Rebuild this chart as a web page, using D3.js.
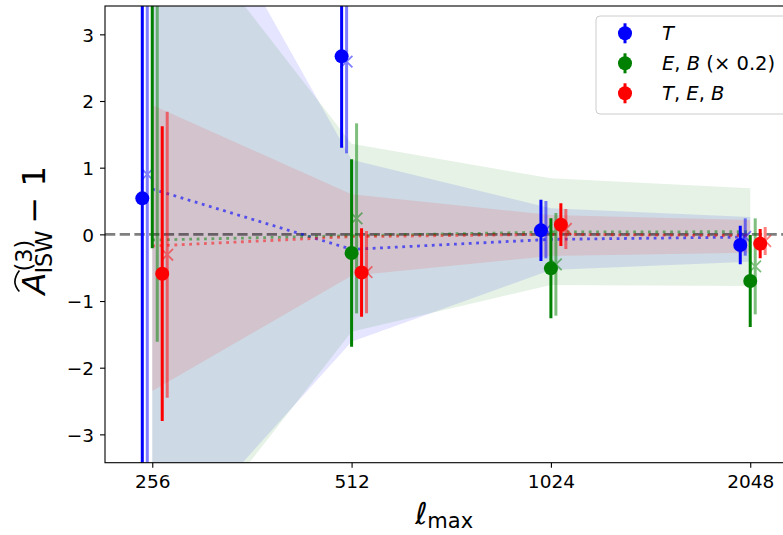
<!DOCTYPE html>
<html>
<head>
<meta charset="utf-8">
<script src="https://cdn.jsdelivr.net/npm/d3@7"></script>
<style>
  body { margin: 0; background: #fff; }
  svg { display: block; font-family: "DejaVu Sans", sans-serif; }
</style>
</head>
<body>
<div id="chart"></div>
<script>
// data
const lmaxValues = [256, 512, 1024, 2048]
const xTicks = [256, 512, 1024, 2048]
const yTicks = [-3, -2, -1, 0, 1, 2, 3]

// filled markers (value, symmetric error)
const tValues = [0.54, 2.67, 0.06, -0.16]
const tErrors = [4.6, 1.37, 0.46, 0.29]
const ebValues = [4.2, -0.28, -0.51, -0.70]
const ebErrors = [4.41, 1.405, 0.75, 0.69]
const tebValues = [-0.59, -0.573, 0.145, -0.14]
const tebErrors = [2.21, 0.663, 0.32, 0.22]

// faded "x" markers
const tAltValues = [0.9, 2.59, 0.07, -0.04]
const tAltErrors = [4.8, 1.375, 0.43, 0.28]
const ebAltValues = [3.8, 0.24, -0.45, -0.48]
const ebAltErrors = [5.41, 1.425, 0.77, 0.72]
const tebAltValues = [-0.305, -0.567, 0.08, -0.1]
const tebAltErrors = [2.145, 0.617, 0.30, 0.21]

// shaded bands and dotted means
const tBandLow = [-4.93, -1.61, -0.535, -0.41]
const tBandHigh = [6.43, 1.12, 0.39, 0.26]
const ebBandLow = [-5.29, -1.46, -0.76, -0.775]
const ebBandHigh = [5.21, 1.36, 0.84, 0.69]
const tebBandLow = [-2.35, -0.62, -0.325, -0.275]
const tebBandHigh = [1.94, 0.60, 0.29, 0.215]
const tMean = [0.68, -0.225, -0.075, -0.04]
const ebMean = [-0.085, -0.02, 0.035, 0.04]
const tebMean = [-0.175, -0.035, 0.0, -0.02]

function drawChart() {

    // 1. dimensions
    let dimensions = {
        width: 783,
        height: 535,
        margin: { top: 6, right: -12, bottom: 72.3, left: 105 },
    }
    dimensions.boundedWidth = dimensions.width - dimensions.margin.left - dimensions.margin.right
    dimensions.boundedHeight = dimensions.height - dimensions.margin.top - dimensions.margin.bottom

    // 2. canvas
    const wrapper = d3.select("#chart")
      .append("svg")
        .attr("width", dimensions.width)
        .attr("height", dimensions.height)

    const bounds = wrapper.append("g")
        .attr("transform", `translate(${dimensions.margin.left},${dimensions.margin.top})`)

    bounds.append("clipPath").attr("id", "plot-clip")
      .append("rect")
        .attr("width", dimensions.boundedWidth)
        .attr("height", dimensions.boundedHeight)

    // 3. scales
    const xScale = d3.scaleLog().base(2)
        .domain([217.2, 2393])
        .range([0, dimensions.boundedWidth])

    const yScale = d3.scaleLinear()
        .domain([-3.425, 3.425])
        .range([dimensions.boundedHeight, 0])

    const dodge = (l, off) => xScale(l * Math.pow(2, off))

    const plot = bounds.append("g").attr("clip-path", "url(#plot-clip)")

    // 4. bands
    const bands = [
        { low: tBandLow, high: tBandHigh, color: "blue" },
        { low: ebBandLow, high: ebBandHigh, color: "green" },
        { low: tebBandLow, high: tebBandHigh, color: "red" },
    ]
    bands.forEach(b => {
        const area = d3.area()
            .x((d, i) => xScale(lmaxValues[i]))
            .y0((d, i) => yScale(b.low[i]))
            .y1((d, i) => yScale(b.high[i]))
        plot.append("path")
            .datum(lmaxValues)
            .attr("d", area)
            .attr("fill", b.color)
            .attr("fill-opacity", 0.1)
    })

    // zero line
    plot.append("line")
        .attr("x1", 0).attr("x2", dimensions.boundedWidth)
        .attr("y1", yScale(0)).attr("y2", yScale(0))
        .attr("stroke", "black").attr("stroke-opacity", 0.5)
        .attr("stroke-width", 2.8)
        .attr("stroke-dasharray", "10.3,4.4")

    // dotted means
    const means = [
        { values: tMean, color: "blue", opacity: 0.6 },
        { values: ebMean, color: "green", opacity: 0.5 },
        { values: tebMean, color: "red", opacity: 0.5 },
    ]
    means.forEach(m => {
        const line = d3.line()
            .x((d, i) => xScale(lmaxValues[i]))
            .y(d => yScale(d))
        plot.append("path")
            .datum(m.values)
            .attr("d", line)
            .attr("fill", "none")
            .attr("stroke", m.color)
            .attr("stroke-opacity", m.opacity)
            .attr("stroke-width", 2.8)
            .attr("stroke-dasharray", "2.8,4.6")
    })

    // 5. error bars
    const series = [
        { values: tValues, errors: tErrors, color: "blue", off: -0.05, faded: false },
        { values: tAltValues, errors: tAltErrors, color: "blue", off: -0.025, faded: true },
        { values: ebValues, errors: ebErrors, color: "green", off: 0, faded: false },
        { values: ebAltValues, errors: ebAltErrors, color: "green", off: 0.025, faded: true },
        { values: tebValues, errors: tebErrors, color: "red", off: 0.05, faded: false },
        { values: tebAltValues, errors: tebAltErrors, color: "red", off: 0.075, faded: true },
    ]
    series.forEach(s => {
        const g = plot.append("g").attr("opacity", s.faded ? 0.5 : 1)
        const pts = lmaxValues.map((l, i) => ({ x: dodge(l, s.off), v: s.values[i], e: s.errors[i] }))
        g.selectAll("line.bar")
            .data(pts)
            .enter().append("line")
            .attr("class", "bar")
            .attr("x1", p => p.x).attr("x2", p => p.x)
            .attr("y1", p => yScale(p.v + p.e))
            .attr("y2", p => yScale(p.v - p.e))
            .attr("stroke", s.color)
            .attr("stroke-width", 3)
        if (s.faded) {
            g.selectAll("path.mark")
                .data(pts)
                .enter().append("path")
                .attr("class", "mark")
                .attr("d", d3.symbol(d3.symbolX, 90))
                .attr("transform", p => `translate(${p.x},${yScale(p.v)})`)
                .attr("fill", "none")
                .attr("stroke", s.color)
                .attr("stroke-width", 1.8)
        } else {
            g.selectAll("circle")
                .data(pts)
                .enter().append("circle")
                .attr("cx", p => p.x)
                .attr("cy", p => yScale(p.v))
                .attr("r", 7)
                .attr("fill", s.color)
        }
    })

    // 6. axes
    const xAxisGenerator = d3.axisBottom(xScale)
        .tickValues(xTicks)
        .tickFormat(d3.format("d"))
        .tickSizeOuter(0)
        .tickSize(5)
        .tickPadding(6)

    const xAxis = bounds.append("g")
        .attr("transform", `translate(0,${dimensions.boundedHeight})`)
        .call(xAxisGenerator)

    const yAxisGenerator = d3.axisLeft(yScale)
        .tickValues(yTicks)
        .tickFormat(d => d < 0 ? "\u2212" + Math.abs(d) : d)
        .tickSizeOuter(0)
        .tickSize(5)
        .tickPadding(6)

    const yAxis = bounds.append("g").call(yAxisGenerator)

    ;[xAxis, yAxis].forEach(ax => {
        ax.select(".domain").remove()
        ax.selectAll(".tick line").attr("stroke", "#000").attr("stroke-width", 1.1)
        ax.selectAll(".tick text")
            .attr("fill", "#000")
            .style("font-family", "DejaVu Sans")
            .style("font-size", "18.5px")
    })
    xAxis.selectAll(".tick text").attr("dy", "0.75em")
    yAxis.selectAll(".tick text").attr("dy", "0.36em")

    // frame
    bounds.append("rect")
        .attr("width", dimensions.boundedWidth)
        .attr("height", dimensions.boundedHeight)
        .attr("fill", "none")
        .attr("stroke", "#000")
        .attr("stroke-width", 1.1)

    // x label: l_max
    const xLabel = wrapper.append("text")
        .attr("x", 444)
        .attr("y", 524)
        .attr("text-anchor", "middle")
        .style("font-size", "30px")
    xLabel.append("tspan").style("font-style", "italic").text("\u2113")
    xLabel.append("tspan").style("font-size", "21px").attr("dy", 4).text("max")

    // y label: widehat A, ISW sub, (3) sup, minus 1
    const fs = 32
    const yLabel = wrapper.append("g")
        .attr("transform", `translate(45,${dimensions.margin.top + dimensions.boundedHeight / 2 - 4}) rotate(-90)`)
    const inner = yLabel.append("g")
    const aText = inner.append("text")
        .style("font-size", fs + "px").style("font-style", "italic").text("A")
    const aW = aText.node().getComputedTextLength()
    const supText = inner.append("text")
        .attr("x", aW + 1).attr("y", -13)
        .style("font-size", (fs * 0.7) + "px").text("(3)")
    const subText = inner.append("text")
        .attr("x", aW - 1).attr("y", 7)
        .style("font-size", (fs * 0.7) + "px").text("ISW")
    const scriptW = Math.max(supText.node().getComputedTextLength() + 1, subText.node().getComputedTextLength() - 1)
    const restText = inner.append("text")
        .attr("x", aW + scriptW + 7)
        .style("font-size", fs + "px").text("\u2212 1")
    const totalW = aW + scriptW + 7 + restText.node().getComputedTextLength()
    inner.append("path")
        .attr("d", `M${3},${-fs * 0.8} Q${aW * 0.55},${-fs * 1.08} ${aW + 2},${-fs * 0.8}`)
        .attr("fill", "none").attr("stroke", "#000").attr("stroke-width", 1.6)
    inner.attr("transform", `translate(${-totalW / 2},0)`)

    // 7. legend
    const legend = wrapper.append("g").attr("transform", "translate(596,16)")
    legend.append("rect")
        .attr("width", 200).attr("height", 98)
        .attr("rx", 4)
        .attr("fill", "#fff").attr("fill-opacity", 0.8)
        .attr("stroke", "#ccc")
    const legendItems = [
        { color: "blue", parts: [["T", true]] },
        { color: "green", parts: [["E", true], [", ", false], ["B", true], [" (\u00d7 0.2)", false]] },
        { color: "red", parts: [["T", true], [", ", false], ["E", true], [", ", false], ["B", true]] },
    ]
    legendItems.forEach((item, i) => {
        const row = legend.append("g").attr("transform", `translate(0,${17.3 + i * 30})`)
        row.append("line")
            .attr("x1", 29).attr("x2", 29).attr("y1", -10).attr("y2", 10)
            .attr("stroke", item.color).attr("stroke-width", 3)
        row.append("circle").attr("cx", 29).attr("r", 7).attr("fill", item.color)
        const t = row.append("text").attr("x", 66).attr("y", 7).style("font-size", "19.5px")
        item.parts.forEach(p => {
            t.append("tspan").style("font-style", p[1] ? "italic" : "normal").text(p[0])
        })
    })
}

drawChart()
</script>
</body>
</html>
